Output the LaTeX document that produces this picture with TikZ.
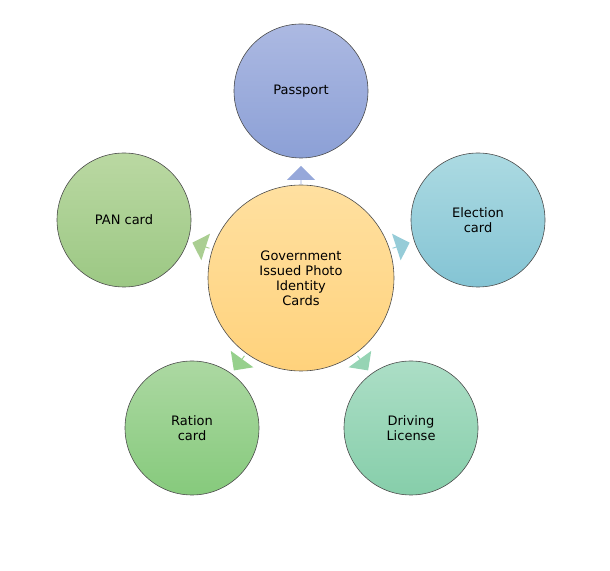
\documentclass[tikz,border=0pt]{standalone}
\usepackage{fontspec}
\setmainfont{DejaVu Sans}
\usetikzlibrary{shapes.arrows,calc}
\begin{document}
\begin{tikzpicture}[x=1pt,y=1pt,
                    hub/.style = {circle, draw = black!70, line width = 0.6pt, minimum size = 186pt, align = center, font = \fontsize{13}{15}\selectfont},
                    card/.style = {circle, draw = black!70, line width = 0.6pt, minimum size = 134pt, align = center, font = \fontsize{13}{15}\selectfont},
                    arr/.style = {single arrow, single arrow head extend = 6pt, minimum width = 28pt, minimum height = 18pt, inner sep = 0pt}]
%%%%%
\useasboundingbox (0,0) rectangle (610,570);

\node [hub, top color = {rgb,255:red,255;green,224;blue,160}, bottom color = {rgb,255:red,255;green,210;blue,124}] (C) at (301,292) {Government\\Issued Photo\\Identity\\Cards};
\node [card, top color = {rgb,255:red,172;green,185;blue,226}, bottom color = {rgb,255:red,140;green,160;blue,214}] (P) at (301,479) {Passport};
\node [card, top color = {rgb,255:red,172;green,218;blue,226}, bottom color = {rgb,255:red,132;green,196;blue,212}] (E) at (478,350) {Election\\card};
\node [card, top color = {rgb,255:red,172;green,222;blue,198}, bottom color = {rgb,255:red,134;green,206;blue,170}] (D) at (411,142) {Driving\\License};
\node [card, top color = {rgb,255:red,172;green,216;blue,162}, bottom color = {rgb,255:red,134;green,202;blue,124}] (R) at (192,142) {Ration\\card};
\node [card, top color = {rgb,255:red,186;green,216;blue,162}, bottom color = {rgb,255:red,156;green,200;blue,132}] (N) at (124,350) {PAN card};

\node [arr, rotate = 90, fill = {rgb,255:red,150;green,168;blue,218}] (aP) at ($(C)+(90:103)$) {};
\node [arr, rotate = 18, fill = {rgb,255:red,150;green,204;blue,216}] (aE) at ($(C)+(18:105)$) {};
\node [arr, rotate = -54, fill = {rgb,255:red,150;green,212;blue,180}] (aD) at ($(C)+(-54:105)$) {};
\node [arr, rotate = -126, fill = {rgb,255:red,150;green,208;blue,140}] (aR) at ($(C)+(-126:105)$) {};
\node [arr, rotate = 162, fill = {rgb,255:red,170;green,206;blue,146}] (aN) at ($(C)+(162:105)$) {};

\end{tikzpicture}
\end{document}
